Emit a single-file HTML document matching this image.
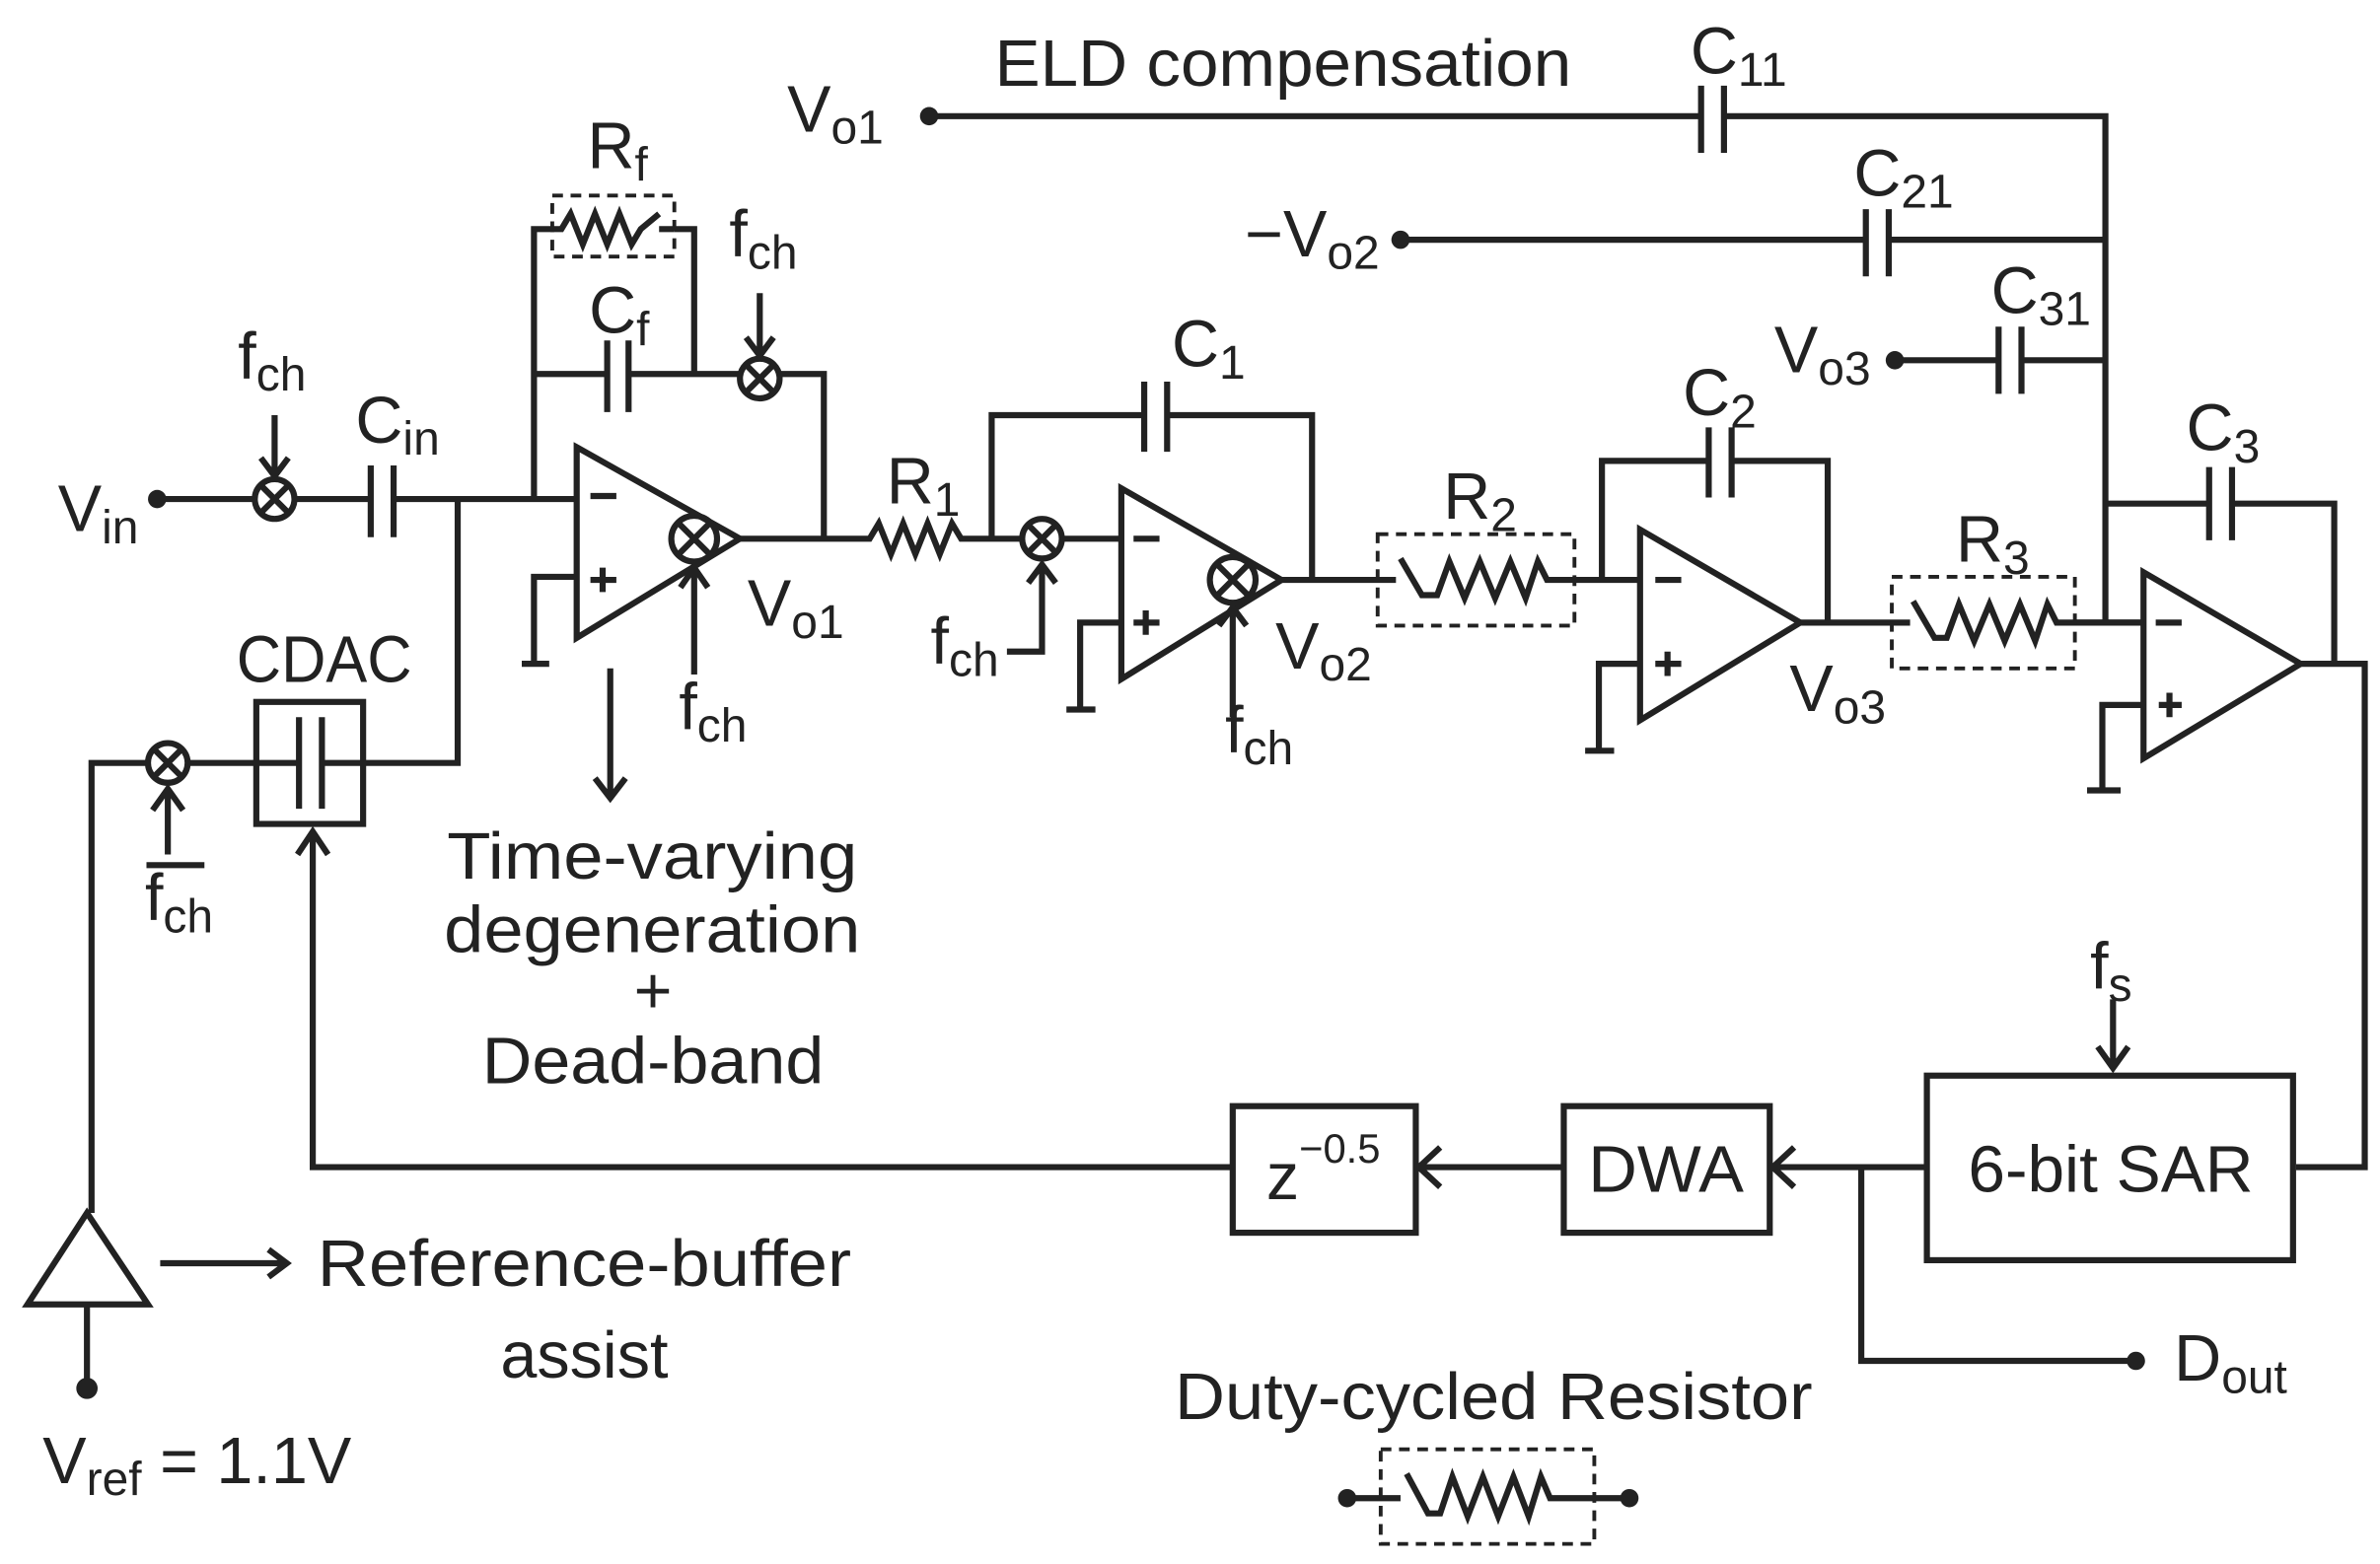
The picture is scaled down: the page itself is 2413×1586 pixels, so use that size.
<!DOCTYPE html>
<html><head><meta charset="utf-8"><style>
html,body{margin:0;padding:0;background:#fff;}
svg{display:block;}
text{font-family:"Liberation Sans",sans-serif;fill:#222;}
</style></head><body>
<svg width="2413" height="1586" viewBox="0 0 1560 1025" xmlns="http://www.w3.org/2000/svg">
<g fill="none" stroke="#222" stroke-width="4" stroke-linejoin="miter">
<path d="M609 76 H1115 M1130 76 H1380 V408"/>
<path d="M1115 56 V100 M1130 56 V100"/>
<path d="M918 157 H1223 M1238 157 H1380"/>
<path d="M1223 137 V181 M1238 137 V181"/>
<path d="M1242 236 H1310 M1325 236 H1380"/>
<path d="M1310 214 V258 M1325 214 V258"/>
<path d="M1380 330 H1448 M1463 330 H1530 V435"/>
<path d="M1448 306 V354 M1463 306 V354"/>
<path d="M1405 375 L1508 435 L1405 497 Z"/>
<path d="M1360 408 H1405 M1405 462 H1378 V518 M1368 518 H1390"/>
<path d="M1413 408 H1430 M1415 462 H1430 M1422 454 V470"/>
<path d="M1508 435 H1550 V765 H1505"/>
<rect x="1263" y="705" width="240" height="121"/>
<path d="M1385 655 V700 M1375 686 L1385 700 L1395 686"/>
<path d="M1263 765 H1162 M1176 752 L1162 765 L1176 778"/>
<path d="M1220 765 V892 H1400"/>
<rect x="1025" y="725" width="135" height="83"/>
<path d="M1025 765 H930 M944 752 L930 765 L944 778"/>
<rect x="808" y="725" width="120" height="83"/>
<path d="M808 765 H205 V545 M195 560 L205 545 L215 560"/>
<rect x="168" y="460" width="70" height="80"/>
<path d="M196 470 V530 M211 470 V530"/>
<path d="M60 795 V500 H97 M123 500 H196 M211 500 H300 V327"/>
<circle cx="110" cy="500" r="13"/>
<path d="M101 491 L119 509 M119 491 L101 509"/>
<path d="M110 560 V517 M100 531 L110 517 L120 531"/>
<path d="M96 567 H134"/>
<path d="M57 795 L97 855 L18 855 Z"/>
<path d="M57 855 V910"/>
<path d="M105 828 H188 M176 819 L188 828 L176 837"/>
<path d="M103 327 H167 M193 327 H243 M258 327 H378"/>
<path d="M243 305 V352 M258 305 V352"/>
<circle cx="180" cy="327" r="13"/>
<path d="M171 318 L189 336 M189 318 L171 336"/>
<path d="M180 272 V312 M171 300 L180 312 L189 300"/>
<path d="M350 327 V150 H362 M442 150 H455 V245"/>
<path d="M362 150 H368 L374 140 L382 160 L390 140 L398 160 L406 140 L414 160 L420 150 L432 140 M432 150 H442"/>
<rect x="362" y="128" width="80" height="40" stroke-width="2.5" stroke-dasharray="7 5"/>
<path d="M350 245 H398 M412 245 H485 M511 245 H540 V353"/>
<path d="M398 223 V270 M412 223 V270"/>
<circle cx="498" cy="248" r="13"/>
<path d="M489 239 L507 257 M507 239 L489 257"/>
<path d="M498 192 V233 M489 221 L498 233 L507 221"/>
<path d="M378 293 L485 353 L378 418 Z"/>
<circle cx="455" cy="353" r="15"/>
<path d="M444 342 L466 364 M466 342 L444 364"/>
<path d="M387 325 H404 M387 380 H404 M395 372 V388"/>
<path d="M378 378 H350 V435 M342 435 H360"/>
<path d="M400 438 V523 M390 510 L400 523 L410 510"/>
<path d="M455 442 V372 M446 385 L455 372 L464 385"/>
<path d="M485 353 H570 L576 343 L584 363 L592 343 L600 363 L608 343 L616 363 L624 343 L630 353 H670 M696 353 H735"/>
<circle cx="683" cy="353" r="13"/>
<path d="M674 344 L692 362 M692 344 L674 362"/>
<path d="M660 427 H683 V370 M674 382 L683 370 L692 382"/>
<path d="M650 353 V272 H750 M765 272 H860 V380"/>
<path d="M750 250 V296 M765 250 V296"/>
<path d="M735 320 L840 380 L735 445 Z"/>
<circle cx="808" cy="380" r="15"/>
<path d="M797 369 L819 391 M819 369 L797 391"/>
<path d="M743 353 H760 M743 408 H760 M751 400 V416"/>
<path d="M735 408 H708 V465 M699 465 H718"/>
<path d="M808 470 V398 M799 410 L808 398 L817 410"/>
<path d="M840 380 H915 M918 366 L932 390 H942 L950 368 L960 392 L970 368 L980 392 L990 368 L1000 392 L1008 368 L1014 380 H1075"/>
<rect x="903" y="350" width="129" height="60" stroke-width="2.5" stroke-dasharray="7 5"/>
<path d="M1050 380 V302 H1120 M1135 302 H1198 V408"/>
<path d="M1120 280 V326 M1135 280 V326"/>
<path d="M1075 347 L1180 408 L1075 472 Z"/>
<path d="M1085 380 H1102 M1085 435 H1102 M1093 427 V443"/>
<path d="M1075 435 H1048 V492 M1039 492 H1058"/>
<path d="M1180 408 H1252 M1254 394 L1268 418 H1276 L1284 396 L1294 420 L1304 396 L1314 420 L1324 396 L1334 420 L1342 396 L1348 408 H1405"/>
<rect x="1240" y="378" width="120" height="60" stroke-width="2.5" stroke-dasharray="7 5"/>
<path d="M883 982 H918 M922 966 L936 992 H944 L952 968 L962 994 L972 968 L982 994 L992 968 L1002 994 L1010 968 L1016 982 H1068"/>
<rect x="905" y="950" width="140" height="62" stroke-width="2.5" stroke-dasharray="7 5"/>
</g>
<g fill="#222">
<circle cx="609" cy="76" r="6"/><circle cx="918" cy="157" r="6"/><circle cx="1242" cy="236" r="6"/>
<circle cx="103" cy="327" r="6"/><circle cx="57" cy="910" r="7"/><circle cx="1400" cy="892" r="6"/>
<circle cx="883" cy="982" r="6"/><circle cx="1068" cy="982" r="6"/>
</g>
<g font-size="43">
<text x="652" y="56" textLength="378" lengthAdjust="spacingAndGlyphs">ELD compensation</text>
<text x="516" y="86">V<tspan font-size="31" dy="8">o1</tspan></text>
<text x="1108" y="48">C<tspan font-size="31" dy="8">11</tspan></text>
<text x="816" y="168">−V<tspan font-size="31" dy="8">o2</tspan></text>
<text x="1215" y="128">C<tspan font-size="31" dy="8">21</tspan></text>
<text x="1163" y="244">V<tspan font-size="31" dy="8">o3</tspan></text>
<text x="1305" y="205">C<tspan font-size="31" dy="8">31</tspan></text>
<text x="1433" y="295">C<tspan font-size="31" dy="8">3</tspan></text>
<text x="1103" y="272">C<tspan font-size="31" dy="8">2</tspan></text>
<text x="768" y="240">C<tspan font-size="31" dy="8">1</tspan></text>
<text x="946" y="340">R<tspan font-size="31" dy="8">2</tspan></text>
<text x="1282" y="368">R<tspan font-size="31" dy="8">3</tspan></text>
<text x="581" y="330">R<tspan font-size="31" dy="8">1</tspan></text>
<text x="385" y="110">R<tspan font-size="31" dy="8">f</tspan></text>
<text x="386" y="218">C<tspan font-size="31" dy="8">f</tspan></text>
<text x="233" y="290">C<tspan font-size="31" dy="8">in</tspan></text>
<text x="38" y="348">V<tspan font-size="31" dy="8">in</tspan></text>
<text x="156" y="248">f<tspan font-size="31" dy="8">ch</tspan></text>
<text x="478" y="168">f<tspan font-size="31" dy="8">ch</tspan></text>
<text x="445" y="478">f<tspan font-size="31" dy="8">ch</tspan></text>
<text x="610" y="435">f<tspan font-size="31" dy="8">ch</tspan></text>
<text x="803" y="493">f<tspan font-size="31" dy="8">ch</tspan></text>
<text x="95" y="603">f<tspan font-size="31" dy="8">ch</tspan></text>
<text x="490" y="410">V<tspan font-size="31" dy="8">o1</tspan></text>
<text x="836" y="438">V<tspan font-size="31" dy="8">o2</tspan></text>
<text x="1173" y="466">V<tspan font-size="31" dy="8">o3</tspan></text>
<text x="1370" y="648">f<tspan font-size="31" dy="8">s</tspan></text>
<text x="1425" y="905">D<tspan font-size="31" dy="8">out</tspan></text>
<text x="155" y="447" textLength="115" lengthAdjust="spacingAndGlyphs">CDAC</text>
<text x="293" y="576" textLength="269" lengthAdjust="spacingAndGlyphs">Time-varying</text>
<text x="291" y="624" textLength="273" lengthAdjust="spacingAndGlyphs">degeneration</text>
<text x="428" y="664" text-anchor="middle">+</text>
<text x="316" y="710" textLength="224" lengthAdjust="spacingAndGlyphs">Dead-band</text>
<text x="208" y="843" textLength="350" lengthAdjust="spacingAndGlyphs">Reference-buffer</text>
<text x="328" y="903" textLength="110" lengthAdjust="spacingAndGlyphs">assist</text>
<text x="28" y="972">V<tspan font-size="31" dy="8">ref</tspan><tspan dy="-8"> = 1.1V</tspan></text>
<text x="1290" y="781" textLength="187" lengthAdjust="spacingAndGlyphs">6-bit SAR</text>
<text x="1041" y="781" textLength="102" lengthAdjust="spacingAndGlyphs">DWA</text>
<text x="830" y="786">z<tspan font-size="27" dy="-24">−0.5</tspan></text>
<text x="770" y="930" textLength="418" lengthAdjust="spacingAndGlyphs">Duty-cycled Resistor</text>
</g>
</svg>
</body></html>
